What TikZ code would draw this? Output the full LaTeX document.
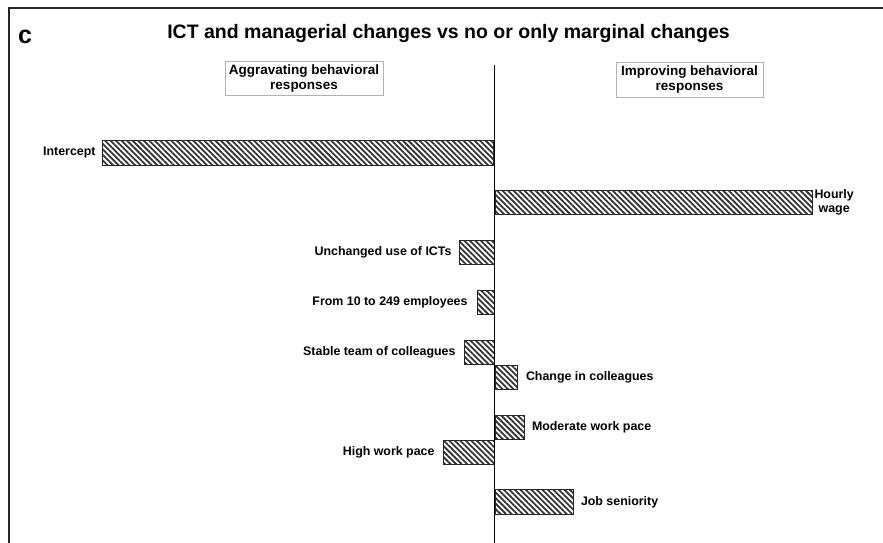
\documentclass[tikz,border=0pt]{standalone}
\usepackage{fontspec}
\setmainfont{Liberation Sans}
\usetikzlibrary{positioning,patterns.meta}

\begin{document}
\begin{tikzpicture}[x=1pt,y=-1pt,
    bar/.style={draw=black!85,line width=0.8pt,inner sep=0pt,minimum height=24.5pt,pattern={Lines[angle=-45,distance=3.9pt,line width=1.8pt]},pattern color=black!80},
    lab/.style={inner sep=0pt,font=\fontsize{12.4}{14}\selectfont\bfseries},
    hdr/.style={draw=black!30,line width=0.8pt,inner sep=0pt,align=center,font=\fontsize{13.5}{15}\selectfont\bfseries}]

    \useasboundingbox (0,0) rectangle (883,543);

    \draw[line width=2pt,black!85] (8.5,543) -- (8.5,8) -- (883,8);

    \node (pan) at (18,43.5) [anchor=base west,inner sep=0pt,font=\fontsize{25}{28}\selectfont\bfseries] {c}; \node (ttl) at (448.5,39) [anchor=base,inner sep=0pt,font=\fontsize{19.5}{22}\selectfont\bfseries] {ICT and managerial changes vs no or only marginal changes};

    \node (agg) at (304,78.5) [hdr,minimum width=158pt,minimum height=34pt] {Aggravating behavioral\\responses}; \node (imp) at (689.5,79.5) [hdr,minimum width=147pt,minimum height=35pt] {Improving behavioral\\responses};

    \node (b1) at (494.5,153) [bar,anchor=east,minimum width=391pt] {}; \node (l1) [lab,left=6pt of b1] {Intercept};
    \node (b2) at (494.5,202.5) [bar,anchor=west,minimum width=317pt] {}; \node (l2) [lab,right=2pt of b2,align=center] {Hourly\\wage};
    \node (b3) at (494.5,252.5) [bar,anchor=east,minimum width=35pt] {}; \node (l3) [lab,left=7pt of b3] {Unchanged use of ICTs};
    \node (b4) at (494.5,302.5) [bar,anchor=east,minimum width=17pt] {}; \node (l4) [lab,left=9pt of b4] {From 10 to 249 employees};
    \node (b5) at (494.5,352.5) [bar,anchor=east,minimum width=30pt] {}; \node (l5) [lab,left=8pt of b5] {Stable team of colleagues};
    \node (b6) at (494.5,377.5) [bar,anchor=west,minimum width=22.5pt] {}; \node (l6) [lab,right=8pt of b6] {Change in colleagues};
    \node (b7) at (494.5,427.5) [bar,anchor=west,minimum width=29.5pt] {}; \node (l7) [lab,right=7pt of b7] {Moderate work pace};
    \node (b8) at (494.5,452.5) [bar,anchor=east,minimum width=51pt] {}; \node (l8) [lab,left=8pt of b8] {High work pace};
    \node (b9) at (494.5,502) [bar,anchor=west,minimum width=78.5pt] {}; \node (l9) [lab,right=7pt of b9] {Job seniority};

    \coordinate (axt) at (494.5,65); \coordinate (axb) at (494.5,543); \draw[line width=1.5pt] (axt) -- (axb);

\end{tikzpicture}
\end{document}
